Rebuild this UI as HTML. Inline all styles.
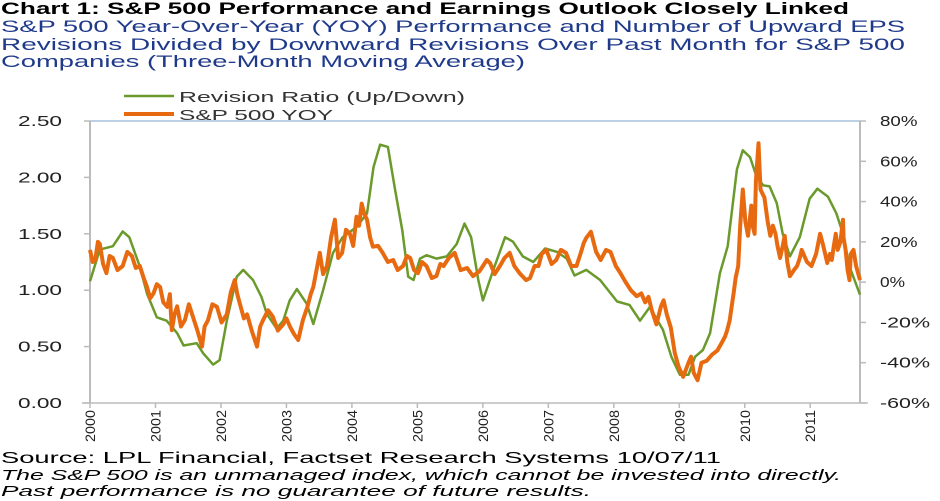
<!DOCTYPE html>
<html><head><meta charset="utf-8"><style>
html,body{margin:0;padding:0;background:#fff;}
svg{display:block;font-family:"Liberation Sans",sans-serif;}
</style></head><body>
<svg id="chart" width="940" height="501" viewBox="0 0 940 501">
<text x="1" y="14" font-size="17" font-weight="bold" fill="#000" textLength="848" lengthAdjust="spacingAndGlyphs">Chart 1:  S&amp;P 500 Performance and Earnings Outlook Closely Linked</text>
<g fill="#1f3a8a" font-size="17">
<text x="1" y="32" textLength="904" lengthAdjust="spacingAndGlyphs">S&amp;P 500 Year-Over-Year (YOY) Performance and Number of Upward EPS</text>
<text x="1" y="50" textLength="904" lengthAdjust="spacingAndGlyphs">Revisions Divided by Downward Revisions Over Past Month for S&amp;P 500</text>
<text x="1" y="67" textLength="524" lengthAdjust="spacingAndGlyphs">Companies (Three-Month Moving Average)</text>
</g>
<g>
<g><line x1="124" y1="96" x2="174" y2="96" stroke="#6a9a2c" stroke-width="2.5"/><text x="179" y="102" font-size="15" fill="#333" textLength="286" lengthAdjust="spacingAndGlyphs">Revision Ratio (Up/Down)</text></g>
<g><line x1="124" y1="114" x2="174" y2="114" stroke="#e86a10" stroke-width="4"/><text x="179" y="120" font-size="15" fill="#333" textLength="154" lengthAdjust="spacingAndGlyphs">S&amp;P 500 YOY</text></g>
</g>
<g id="axes"></g>
<g id="series"></g>
<g font-size="15" fill="#000">
<text x="1" y="463" font-size="16" textLength="720" lengthAdjust="spacingAndGlyphs">Source: LPL Financial, Factset Research Systems 10/07/11</text>
<text x="1" y="480" font-style="italic" font-size="15" textLength="840" lengthAdjust="spacingAndGlyphs">The S&amp;P 500 is an unmanaged index, which cannot be invested into directly.</text>
<text x="1" y="496" font-style="italic" font-size="15" textLength="590" lengthAdjust="spacingAndGlyphs">Past performance  is no guarantee  of future results.</text>
</g>
</svg>
<script>
const years = [2000,2001,2002,2003,2004,2005,2006,2007,2008,2009,2010,2011];
const leftTicks = [0,0.5,1,1.5,2,2.5];
const leftTickLabels = ["0.00","0.50","1.00","1.50","2.00","2.50"];
const rightTicks = [-60,-40,-20,0,20,40,60,80];
const rightTickLabels = ["-60%","-40%","-20%","0%","20%","40%","60%","80%"];
const ratioDates = [2000.0,2000.15,2000.35,2000.5,2000.6,2000.76,2000.87,2001.02,2001.17,2001.33,2001.43,2001.63,2001.73,2001.88,2001.98,2002.09,2002.24,2002.34,2002.49,2002.62,2002.7,2002.85,2002.95,2003.05,2003.16,2003.31,2003.41,2003.56,2003.71,2003.86,2004.07,2004.23,2004.33,2004.43,2004.55,2004.66,2004.77,2004.86,2004.94,2005.04,2005.14,2005.29,2005.45,2005.6,2005.72,2005.82,2005.93,2006.0,2006.16,2006.34,2006.46,2006.61,2006.77,2006.95,2007.13,2007.28,2007.4,2007.58,2007.79,2008.05,2008.24,2008.4,2008.55,2008.75,2008.88,2009.01,2009.14,2009.24,2009.36,2009.47,2009.62,2009.74,2009.88,2009.97,2010.08,2010.18,2010.28,2010.38,2010.49,2010.58,2010.69,2010.84,2010.99,2011.11,2011.27,2011.4,2011.5,2011.6,2011.76];
const ratioValues = [1.08,1.36,1.39,1.52,1.47,1.21,0.97,0.76,0.73,0.62,0.51,0.53,0.44,0.34,0.38,0.73,1.12,1.18,1.09,0.94,0.79,0.66,0.73,0.91,1.01,0.88,0.70,1.0,1.33,1.47,1.56,1.68,2.09,2.29,2.27,1.89,1.53,1.12,1.09,1.28,1.31,1.28,1.30,1.41,1.59,1.47,1.09,0.91,1.18,1.47,1.43,1.30,1.25,1.37,1.34,1.28,1.13,1.18,1.09,0.90,0.87,0.73,0.85,0.65,0.41,0.25,0.25,0.41,0.47,0.62,1.15,1.39,2.07,2.24,2.18,2.01,1.93,1.92,1.77,1.50,1.30,1.47,1.81,1.90,1.83,1.68,1.50,1.21,0.96];
const spxDates = [2000.0,2000.04,2000.08,2000.12,2000.15,2000.2,2000.25,2000.3,2000.35,2000.42,2000.5,2000.57,2000.64,2000.7,2000.76,2000.82,2000.87,2000.92,2000.97,2001.02,2001.07,2001.12,2001.18,2001.22,2001.25,2001.29,2001.33,2001.39,2001.45,2001.51,2001.57,2001.64,2001.71,2001.75,2001.8,2001.87,2001.94,2002.01,2002.09,2002.15,2002.21,2002.25,2002.29,2002.35,2002.4,2002.47,2002.55,2002.6,2002.64,2002.72,2002.79,2002.87,2002.95,2003.0,2003.06,2003.12,2003.18,2003.25,2003.32,2003.37,2003.41,2003.46,2003.51,2003.56,2003.62,2003.68,2003.74,2003.79,2003.85,2003.91,2003.97,2004.02,2004.07,2004.11,2004.15,2004.19,2004.23,2004.28,2004.32,2004.4,2004.47,2004.55,2004.63,2004.7,2004.78,2004.84,2004.89,2004.95,2005.01,2005.07,2005.14,2005.22,2005.29,2005.35,2005.4,2005.48,2005.57,2005.66,2005.76,2005.85,2005.95,2006.06,2006.11,2006.18,2006.26,2006.33,2006.41,2006.48,2006.56,2006.66,2006.72,2006.79,2006.85,2006.9,2006.97,2007.05,2007.12,2007.19,2007.27,2007.35,2007.43,2007.5,2007.54,2007.58,2007.65,2007.73,2007.8,2007.88,2007.95,2008.03,2008.1,2008.18,2008.26,2008.35,2008.42,2008.48,2008.53,2008.58,2008.65,2008.72,2008.76,2008.81,2008.87,2008.93,2008.99,2009.06,2009.14,2009.18,2009.22,2009.28,2009.34,2009.42,2009.5,2009.58,2009.65,2009.7,2009.73,2009.77,2009.8,2009.83,2009.86,2009.9,2009.93,2009.97,2010.01,2010.05,2010.08,2010.1,2010.12,2010.15,2010.17,2010.21,2010.24,2010.27,2010.3,2010.35,2010.39,2010.43,2010.47,2010.5,2010.54,2010.58,2010.61,2010.65,2010.69,2010.75,2010.8,2010.84,2010.87,2010.95,2011.02,2011.09,2011.15,2011.2,2011.26,2011.3,2011.33,2011.36,2011.39,2011.42,2011.46,2011.5,2011.51,2011.54,2011.57,2011.6,2011.62,2011.66,2011.7,2011.76];
const spxValues = [16,10,11,20,19,9,4.5,13,12,6,8,15,13,7,8,2,-2.4,-8,-5.6,-1,-2.4,-10,-12.3,-6,-23.8,-16,-12,-22,-18.8,-11,-17,-24,-32,-22,-19,-11,-12.3,-20,-16,-5,1,-6,-10.8,-18,-16,-24,-32,-22,-19,-14,-17,-24,-21,-18,-22.5,-26,-28.7,-19,-12.3,-6,-2.4,6,14.5,4,8,22,31,12,14.5,26,24,18,32.5,28,39,34,31,22,17.6,18,14.5,10,11,6,8,13,12,6,4.5,10,8,2,3,9,8,12,14.5,6,7,3,5.5,11,9.5,4,8,12,14.5,8,4.5,1,2,8,8,14,16,9,11,16,14.5,8,8,15,19.4,22,25,15,11,16,15,8,4.5,0,-4,-7,-5.6,-10,-7.3,-14,-21,-12,-9,-16,-22.5,-35,-42,-47,-40,-37,-45,-48.7,-40,-39,-36,-34,-30,-27,-24,-19,-12,-5.6,2,8,28,46,30,23,32,38,28,24,50,69,46,44,42,30,23,28,24,18,12,18,23,10,3,6,8,12,16,10,8,14,24,18,9.5,14,11,18,24,16,20,31,22,16,6,1,14,16,8,1,-2];

const L=90,R=860,T=121,B=403;
const x = d => L + (d-2000)/(2011.76-2000)*(R-L);
const yL = v => B - v/2.5*(B-T);
const yR = v => B - (v+60)/140*(B-T);
const NS="http://www.w3.org/2000/svg";
const axes=document.getElementById('axes'), series=document.getElementById('series');
function mk(tag,attrs,parent){const e=document.createElementNS(NS,tag);for(const k in attrs)e.setAttribute(k,attrs[k]);parent.appendChild(e);return e;}

let e=mk('line',{x1:L,y1:T,x2:R,y2:T,stroke:'#a8c0dc','stroke-width':1.5},axes);


e=mk('line',{x1:L,y1:T,x2:L,y2:B,stroke:'#bbb','stroke-width':2},axes);


e=mk('line',{x1:R,y1:T,x2:R,y2:B,stroke:'#bbb','stroke-width':2},axes);


e=mk('line',{x1:L-8,y1:B,x2:R+8,y2:B,stroke:'#bbb','stroke-width':1.5},axes);



leftTicks.forEach((v,i)=>{
  mk('line',{x1:L-6,y1:yL(v),x2:L,y2:yL(v),stroke:'#bbb','stroke-width':1.5},axes);
  const t=mk('text',{x:62,y:yL(v)+5,'text-anchor':'end','font-size':15,fill:'#222',textLength:44,lengthAdjust:'spacingAndGlyphs'},axes);
  t.textContent=leftTickLabels[i];
  
  
});
rightTicks.forEach((v,i)=>{
  mk('line',{x1:R,y1:yR(v),x2:R+6,y2:yR(v),stroke:'#bbb','stroke-width':1.5},axes);
  const lab=rightTickLabels[i];
  const t=mk('text',{x:880,y:yR(v)+5,'font-size':15,fill:'#222',textLength:lab.length*12.5,lengthAdjust:'spacingAndGlyphs'},axes);
  t.textContent=lab;
  
  
});
years.forEach(yr=>{
  const xx=x(yr);
  mk('line',{x1:xx,y1:B,x2:xx,y2:B+5,stroke:'#bbb','stroke-width':1.5},axes);
  const t=mk('text',{x:0,y:0,'font-size':14,fill:'#222','text-anchor':'end',transform:`translate(${xx+5},${B+7}) rotate(-90)`,textLength:32,lengthAdjust:'spacingAndGlyphs'},axes);
  t.textContent=String(yr);
  
  
});

const pr=ratioDates.map((d,i)=>x(d).toFixed(1)+','+yL(ratioValues[i]).toFixed(1)).join(' ');
const p2=mk('polyline',{points:pr,fill:'none',stroke:'#6a9a2c','stroke-width':2.5,'stroke-linejoin':'round'},series);


const pg=spxDates.map((d,i)=>x(d).toFixed(1)+','+yR(spxValues[i]).toFixed(1)).join(' ');
const p1=mk('polyline',{points:pg,fill:'none',stroke:'#e86a10','stroke-width':4,'stroke-linejoin':'round'},series);


</script>
</body></html>
